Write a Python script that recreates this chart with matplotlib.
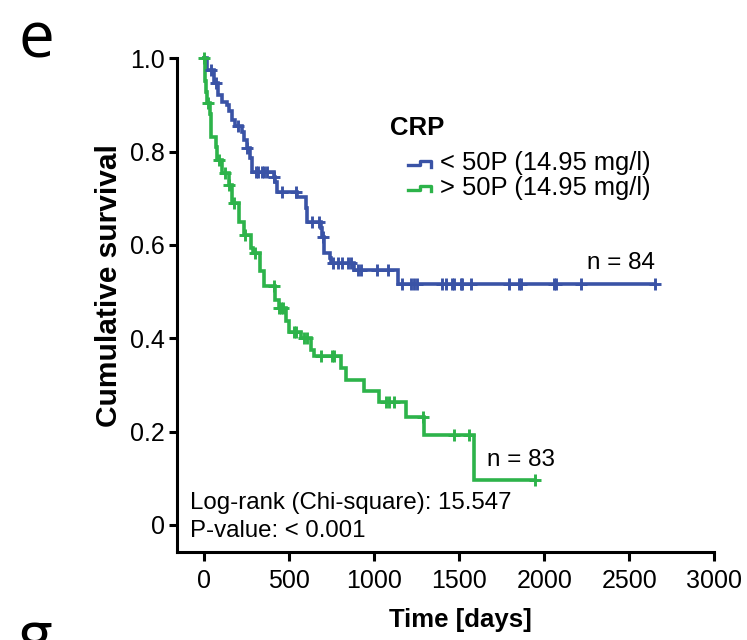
import numpy as np
import matplotlib
matplotlib.use("Agg")
import matplotlib.pyplot as plt
from matplotlib.lines import Line2D

plt.rcParams['font.family'] = ['Liberation Sans', 'DejaVu Sans']

# ---------------- data ----------------
blue_label = "< 50P (14.95 mg/l)"
green_label = "> 50P (14.95 mg/l)"
legend_title = "CRP"

# step times (days) and survival level after each step
blue_event_t = [20, 60, 85, 105, 135, 147, 166, 186, 225, 235, 254, 274, 284,
                412, 421, 428, 550, 599, 608, 687, 697, 707, 740, 750, 885, 1140]
blue_event_s = [0.975, 0.946, 0.921, 0.907, 0.900, 0.886, 0.868, 0.855, 0.843,
                0.825, 0.807, 0.786, 0.757, 0.746, 0.735, 0.714, 0.703, 0.679,
                0.650, 0.636, 0.618, 0.582, 0.571, 0.562, 0.547, 0.517]
blue_censor_t = [45, 70, 200, 255, 305, 320, 340, 355, 370, 415, 461, 540, 638,
                 677, 700, 760, 790, 815, 845, 865, 905, 925, 1020, 1080, 1167,
                 1216, 1235, 1255, 1402, 1421, 1461, 1470, 1510, 1519, 1568,
                 1794, 1853, 1862, 2059, 2069, 2216, 2650]

green_event_t = [5, 10, 15, 20, 35, 40, 42, 70, 78, 108, 147, 167, 206, 235,
                 275, 290, 330, 353, 418, 442, 481, 500, 569, 628, 648, 805,
                 835, 942, 1031, 1190, 1296, 1590]
green_event_s = [0.976, 0.952, 0.928, 0.904, 0.880, 0.855, 0.832, 0.810, 0.782,
                 0.754, 0.728, 0.689, 0.650, 0.621, 0.593, 0.582, 0.545, 0.511,
                 0.482, 0.464, 0.436, 0.414, 0.400, 0.375, 0.361, 0.336, 0.311,
                 0.286, 0.264, 0.232, 0.193, 0.096]
green_censor_t = [2, 25, 88, 127, 150, 176, 245, 304, 412, 445, 455, 465, 530,
                  540, 589, 608, 687, 755, 765, 1070, 1090, 1119, 1286, 1472,
                  1560, 1943]

n_blue = 84
n_green = 83
logrank_text = "Log-rank (Chi-square): 15.547"
pvalue_text = "P-value: < 0.001"

x_ticks = [0, 500, 1000, 1500, 2000, 2500, 3000]
y_ticks = [0, 0.2, 0.4, 0.6, 0.8, 1.0]
y_ticklabels = ["0", "0.2", "0.4", "0.6", "0.8", "1.0"]
x_label = "Time [days]"
y_label = "Cumulative survival"

BLUE = "#3A53A6"
GREEN = "#2DB34A"

# ---------------- figure ----------------
W, H = 747, 640
fig = plt.figure(figsize=(W / 100, H / 100), dpi=100)
ax = fig.add_axes([177 / W, 1 - 552 / H, (714.5 - 177) / W, (552 - 58.3) / H])


def km_curve(ev_t, ev_s, t_end):
    t = np.concatenate([[0.0], np.asarray(ev_t, float), [t_end]])
    s = np.concatenate([[1.0], np.asarray(ev_s, float), [ev_s[-1]]])
    return t, s


def level_at(ev_t, ev_s, times):
    idx = np.searchsorted(np.asarray(ev_t), np.asarray(times), side='right')
    levels = np.concatenate([[1.0], np.asarray(ev_s)])
    return levels[idx]


lw = 2.6
for ev_t, ev_s, cens, col in [(blue_event_t, blue_event_s, blue_censor_t, BLUE),
                              (green_event_t, green_event_s, green_censor_t, GREEN)]:
    t, s = km_curve(ev_t, ev_s, max(cens))
    ax.step(t, s, where='post', color=col, lw=lw, clip_on=False, zorder=3,
            solid_joinstyle='miter')
    ax.plot(cens, level_at(ev_t, ev_s, cens), linestyle='none', marker='+',
            ms=8.5, mew=2.1, color=col, clip_on=False, zorder=4)

ax.set_xlim(-157, 3000)
ax.set_ylim(-0.058, 1.0)
ax.set_xticks(x_ticks)
ax.set_xticklabels([str(v) for v in x_ticks])
ax.set_yticks(y_ticks)
ax.set_yticklabels(y_ticklabels)

for side in ['top', 'right']:
    ax.spines[side].set_visible(False)
for side in ['left', 'bottom']:
    ax.spines[side].set_linewidth(2.2)
    ax.spines[side].set_color('black')
ax.tick_params(axis='both', direction='out', width=2.2, colors='black',
               labelsize=18)
ax.tick_params(axis='y', length=5.5, pad=3)
ax.tick_params(axis='x', length=6.5, pad=6)

ax.set_xlabel(x_label, fontsize=18.5, fontweight='bold', va='center')
ax.xaxis.set_label_coords((460 - 177) / 537.5, (552 - 620) / 493.7)
ax.set_ylabel(y_label, fontsize=21.5, fontweight='bold', va='center')
ax.yaxis.set_label_coords((109 - 177) / 537.5, (552 - 286) / 493.7)

# annotations
ax.text(2650, 0.561, f"n = {n_blue}", ha='right', va='center', fontsize=17.5)
ax.text(1661, 0.139, f"n = {n_green}", ha='left', va='center', fontsize=17.5)
ax.text(-82, 0.046, logrank_text, ha='left', va='center', fontsize=17.3)
ax.text(-82, -0.013, pvalue_text, ha='left', va='center', fontsize=17.3)

# legend (drawn manually to imitate the step glyph)
def fx(px):
    return px / W


def fy(py):
    return 1 - py / H


fig.text(fx(390), fy(128), legend_title, fontsize=18.5, fontweight='bold',
         ha='left', va='center')
for row_y, col, lab in [(163.0, BLUE, blue_label), (187.5, GREEN, green_label)]:
    gx = [408, 420, 420, 431, 431]
    gy = [row_y + 2, row_y + 2, row_y - 2, row_y - 2, row_y + 3.5]
    fig.add_artist(Line2D([fx(v) for v in gx], [fy(v) for v in gy],
                          color=col, lw=2.4, transform=fig.transFigure))
    fig.text(fx(440), fy(row_y), lab, fontsize=18.4, ha='left', va='center')

# panel letters
fig.text(fx(18), fy(57), "e", fontsize=46, family=['Open Sans', 'DejaVu Sans'],
         ha='left', va='baseline')
fig.text(fx(18), fy(657), "g", fontsize=46, family=['Open Sans', 'DejaVu Sans'],
         ha='left', va='baseline')

fig.savefig("out.png", dpi=100)
